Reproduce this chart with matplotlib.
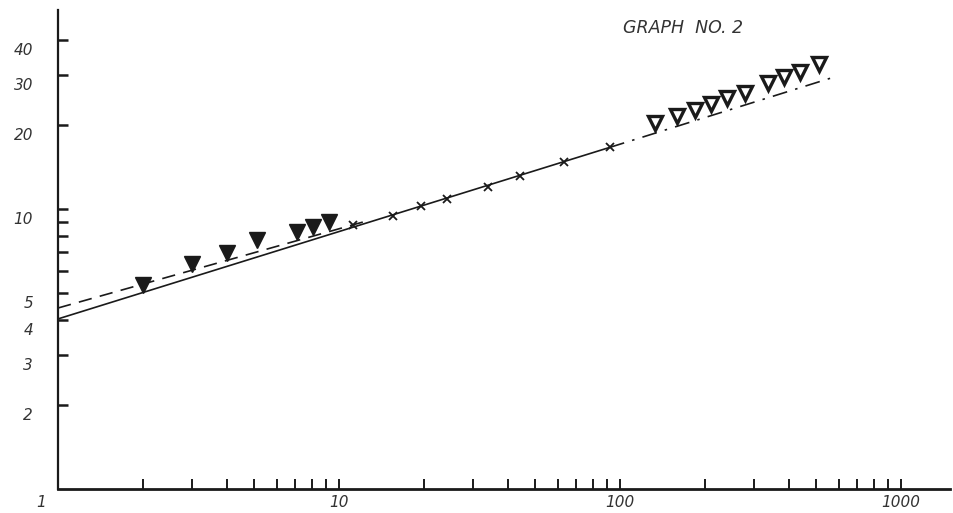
import numpy as np
import matplotlib
matplotlib.use("Agg")
import matplotlib.pyplot as plt
from matplotlib.transforms import ScaledTranslation

# ---- data ----
filled_x = [2.0, 3.0, 4.0, 5.1, 7.1, 8.1, 9.2]
filled_y = [5.35, 6.36, 6.96, 7.75, 8.28, 8.62, 8.98]

cross_x = [11.2, 15.6, 19.6, 24.2, 33.9, 44.0, 63.2, 92.0]
cross_y = [8.77, 9.44, 10.25, 10.86, 11.99, 13.1, 14.7, 16.6]

open_x = [133, 160, 185, 211, 240, 279, 336, 384, 437, 511]
open_y = [20.3, 21.5, 22.6, 23.7, 24.9, 25.9, 28.2, 29.6, 30.8, 32.9]

solid_x = [1.0, 92.0]
solid_y = [4.05, 16.6]
ext_x = [92.0, 560.0]
ext_y = [16.6, 29.3]
dash_x = [1.0, 12.2]
dash_y = [4.43, 8.99]

xticks_major = [1, 10, 100, 1000]
xtick_labels = ["1", "10", "100", "1000"]
xticks_minor = [2, 3, 4, 5, 6, 7, 8, 9, 20, 30, 40, 50, 60, 70, 80, 90,
                200, 300, 400, 500, 600, 700, 800, 900]
yticks = [2, 3, 4, 5, 10, 20, 30, 40]
ytick_labels = ["2", "3", "4", "5", "10", "20", "30", "40"]
yticks_minor = [6, 7, 8, 9]
title = "GRAPH  NO. 2"

W, H = 954, 513
fig = plt.figure(figsize=(W / 100, H / 100), dpi=100)
x0, y0, x1, y1 = 58, 489, 950, 10
ax = fig.add_axes([x0 / W, (H - y0) / H, (x1 - x0) / W, (y0 - y1) / H])
ax.set_xscale("log")
ax.set_yscale("log")
ax.set_xlim(1, 10 ** ((x1 - x0) / 281))
ax.set_ylim(1, 10 ** ((y0 - y1) / 280))

ink = "#1a1a1a"
ax.plot(solid_x, solid_y, color=ink, lw=1.2, solid_capstyle="butt")
ax.plot(ext_x, ext_y, color=ink, lw=1.2, linestyle=(0, (9, 5, 1.5, 5)))
ax.plot(dash_x, dash_y, color=ink, lw=1.2, linestyle=(0, (8, 5)))

ax.plot(filled_x, filled_y, linestyle="none", marker="v", ms=11,
        color=ink, mec=ink)
ax.plot(cross_x, cross_y, linestyle="none", marker="x", ms=6,
        mew=1.3, color=ink)
ax.plot(open_x, open_y, linestyle="none", marker="v", ms=10.5,
        mfc="white", mec=ink, mew=2.4)

for s in ["top", "right"]:
    ax.spines[s].set_visible(False)
ax.spines["left"].set_linewidth(1.6)
ax.spines["bottom"].set_linewidth(2.0)
ax.spines["left"].set_color(ink)
ax.spines["bottom"].set_color(ink)

ax.set_xticks(xticks_major)
ax.set_xticklabels(xtick_labels)
ax.set_xticks(xticks_minor, minor=True)
ax.set_xticklabels([], minor=True)
ax.set_yticks(yticks)
ax.set_yticklabels(ytick_labels)
ax.set_yticks(yticks_minor, minor=True)
ax.set_yticklabels([], minor=True)

ax.tick_params(axis="x", which="both", direction="in", length=7, width=1.4,
               color=ink, pad=4, labelsize=11, labelcolor="#333333")
ax.tick_params(axis="y", which="both", direction="in", length=7, width=1.8,
               color=ink, pad=18, labelsize=11, labelcolor="#333333")

for lab in ax.get_xticklabels() + ax.get_yticklabels():
    lab.set_fontstyle("italic")
for lab in ax.get_yticklabels():
    lab.set_transform(lab.get_transform() +
                      ScaledTranslation(0, -9 / 100, fig.dpi_scale_trans))
xl = ax.get_xticklabels()
xl[0].set_transform(xl[0].get_transform() +
                    ScaledTranslation(-17 / 100, 0, fig.dpi_scale_trans))

fig.text(623 / W, 1 - 28 / H, title, fontsize=12.5, fontstyle="italic",
         color="#333333", va="center", ha="left")

fig.savefig("out.png", dpi=100)
